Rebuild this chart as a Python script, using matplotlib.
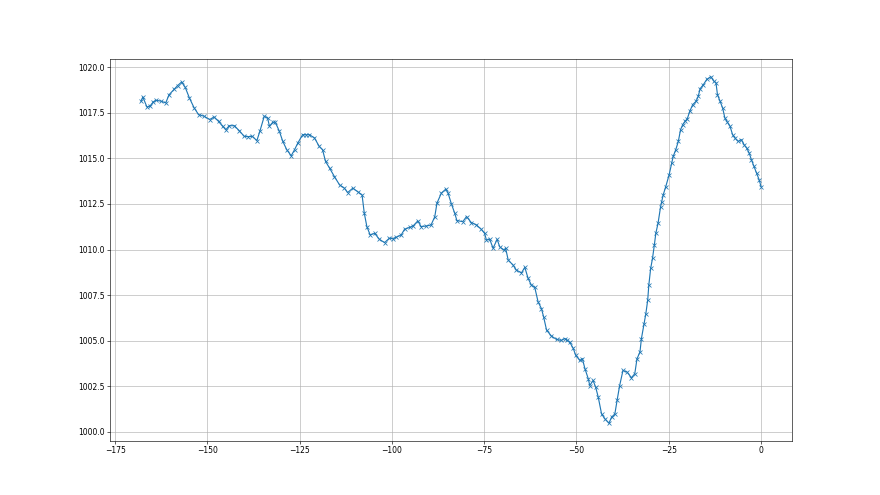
import matplotlib
matplotlib.use("Agg")
import matplotlib.pyplot as plt

# hours before now
hours = [
    -168.0, -167.5, -166.4, -165.6, -164.7, -164.0, -162.6, -161.3, -160.4, -159.0,
    -158.1, -157.0, -156.0, -154.9, -153.6, -152.4, -150.9, -149.4, -148.2, -147.0,
    -145.9, -145.0, -144.1, -142.7, -141.4, -140.0, -138.9, -137.8, -136.6, -135.8,
    -134.6, -133.7, -133.2, -132.3, -131.6, -130.5, -129.6, -128.5, -127.3, -126.4,
    -125.5, -124.2, -123.3, -122.4, -121.0, -119.7, -118.8, -118.0, -116.9, -115.6,
    -114.2, -112.9, -112.0, -110.6, -109.3, -108.1, -107.5, -106.8, -105.9, -104.7,
    -103.4, -102.0, -100.7, -99.8, -98.9, -97.5, -96.6, -95.2, -94.3, -93.0,
    -92.1, -90.7, -89.4, -88.4, -87.8, -86.6, -85.4, -84.8, -83.9, -83.0,
    -82.4, -80.8, -79.8, -78.5, -77.1, -75.8, -74.9, -74.4, -73.5, -72.6,
    -71.5, -70.8, -69.7, -69.2, -68.5, -67.2, -66.3, -64.9, -64.0, -63.1,
    -62.2, -61.3, -60.4, -59.5, -58.9, -58.1, -56.8, -55.4, -54.1, -53.2,
    -52.7, -51.8, -50.9, -50.2, -49.1, -48.4, -47.7, -46.8, -46.4, -45.5,
    -44.8, -44.1, -43.2, -42.3, -41.2, -40.5, -39.6, -39.0, -38.3, -37.4,
    -36.3, -35.1, -34.2, -33.6, -32.8, -32.4, -31.7, -31.2, -30.7, -30.4,
    -29.9, -29.4, -28.9, -28.5, -27.9, -27.2, -26.9, -26.5, -25.8, -24.9,
    -24.2, -23.8, -23.1, -22.4, -21.8, -21.2, -20.6, -20.0, -19.3, -18.5,
    -17.6, -17.0, -16.5, -15.6, -14.7, -13.6, -12.8, -12.2, -11.8, -11.1,
    -10.4, -9.8, -9.1, -8.4, -7.7, -7.1, -6.2, -5.3, -4.6, -3.9,
    -3.2, -2.6, -1.9, -1.2, -0.5, 0.0,
]

# pressure (hPa)
pressure = [
    1018.14, 1018.38, 1017.83, 1017.87, 1018.10, 1018.20, 1018.15, 1018.05, 1018.50, 1018.80,
    1019.00, 1019.20, 1018.90, 1018.33, 1017.78, 1017.41, 1017.32, 1017.14, 1017.28, 1017.04,
    1016.77, 1016.58, 1016.80, 1016.80, 1016.53, 1016.21, 1016.20, 1016.21, 1015.98, 1016.49,
    1017.32, 1017.23, 1016.77, 1016.99, 1016.99, 1016.49, 1015.95, 1015.48, 1015.15, 1015.48,
    1015.85, 1016.31, 1016.30, 1016.31, 1016.13, 1015.66, 1015.48, 1014.84, 1014.47, 1014.01,
    1013.55, 1013.37, 1013.13, 1013.37, 1013.18, 1013.00, 1012.00, 1011.26, 1010.80, 1010.89,
    1010.56, 1010.38, 1010.62, 1010.60, 1010.67, 1010.80, 1011.11, 1011.22, 1011.29, 1011.57,
    1011.26, 1011.29, 1011.35, 1011.80, 1012.55, 1013.10, 1013.32, 1013.10, 1012.51, 1012.00,
    1011.59, 1011.53, 1011.81, 1011.48, 1011.35, 1011.11, 1010.89, 1010.52, 1010.56, 1010.07,
    1010.56, 1010.15, 1009.97, 1010.07, 1009.42, 1009.15, 1008.87, 1008.72, 1009.02, 1008.41,
    1008.04, 1007.92, 1007.12, 1006.76, 1006.30, 1005.57, 1005.25, 1005.06, 1005.01, 1005.11,
    1005.05, 1004.90, 1004.58, 1004.19, 1003.91, 1004.00, 1003.45, 1002.90, 1002.53, 1002.81,
    1002.44, 1001.89, 1000.97, 1000.70, 1000.46, 1000.79, 1000.97, 1001.71, 1002.53, 1003.36,
    1003.27, 1002.96, 1003.18, 1004.00, 1004.37, 1005.11, 1005.93, 1006.48, 1007.22, 1008.04,
    1008.96, 1009.51, 1010.25, 1010.89, 1011.44, 1012.36, 1012.63, 1013.00, 1013.46, 1014.10,
    1014.75, 1015.11, 1015.48, 1015.94, 1016.58, 1016.86, 1017.04, 1017.17, 1017.59, 1017.96,
    1018.14, 1018.42, 1018.83, 1019.06, 1019.34, 1019.49, 1019.25, 1019.16, 1018.51, 1018.14,
    1017.78, 1017.23, 1016.99, 1016.77, 1016.31, 1016.13, 1015.94, 1016.03, 1015.76, 1015.58,
    1015.30, 1014.93, 1014.56, 1014.20, 1013.83, 1013.46,
]


def main():
    fig, ax = plt.subplots(figsize=(16, 9), dpi=55)
    ax.plot(hours, pressure, marker='x')
    ax.grid(True)
    fig.savefig('out.png', dpi=55)
    plt.close(fig)


if __name__ == "__main__":
    main()
